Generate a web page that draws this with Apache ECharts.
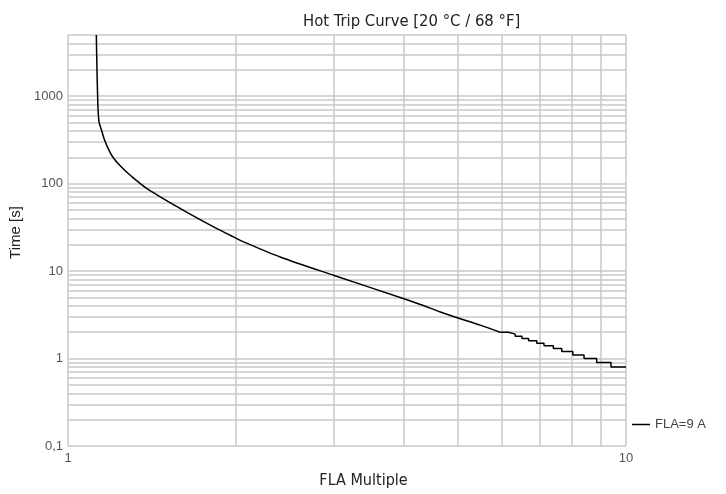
<!DOCTYPE html>
<html>
<head>
<meta charset="utf-8">
<script src="https://cdn.jsdelivr.net/npm/echarts@6/dist/echarts.min.js"></script>
<style>html,body{margin:0;padding:0;background:#fff;}#c{width:726px;height:494px;}</style>
</head>
<body>
<div id="c"></div>
<script>
// Smooth part of the trip curve (FLA multiple, time in s)
var curveFla  = [1.124, 1.127, 1.130, 1.132, 1.137, 1.149, 1.161, 1.185, 1.210, 1.244, 1.296, 1.388, 1.593, 1.827, 1.957, 2.04, 2.40, 3.0, 4.0, 4.28, 4.65, 5.0, 5.48, 5.95];
var curveTime = [5000, 2000, 1000, 713, 502, 403, 324, 238, 191, 157, 123, 87, 51.4, 31.8, 25.5, 22.3, 14.5, 8.9, 4.83, 4.15, 3.40, 2.91, 2.41, 2.0];
// Stepped part: FLA multiple where the time drops to the next 0.1 s level
var stepFla   = [6.16, 6.33, 6.51, 6.69, 6.92, 7.13, 7.41, 7.67, 8.03, 8.41, 8.86, 9.40];
var stepTime  = [1.9, 1.8, 1.7, 1.6, 1.5, 1.4, 1.3, 1.2, 1.1, 1.0, 0.9, 0.8];
var endFla = 10;
// Gridline values
var yMinor = [0.2,0.3,0.4,0.5,0.6,0.7,0.8,0.9, 2,3,4,5,6,7,8,9, 20,30,40,50,60,70,80,90, 200,300,400,500,600,700,800,900, 2000,3000,4000];
var xMinor = [2,3,4,5,6,7,8,9];
var seriesName = 'FLA=9 A';
var titleText = 'Hot Trip Curve [20 \u00B0C / 68 \u00B0F]';

var smoothData = [];
for (var i = 0; i < curveFla.length; i++) smoothData.push([curveFla[i], curveTime[i]]);
var stepData = [];
var prev = curveTime[curveTime.length - 1];
stepData.push([curveFla[curveFla.length - 1], prev]);
for (var j = 0; j < stepFla.length; j++) {
  stepData.push([stepFla[j], prev]);
  stepData.push([stepFla[j], stepTime[j]]);
  prev = stepTime[j];
}
stepData.push([endFla, prev]);

var gridColor = '#c8c8c8';
var ml = [];
yMinor.forEach(function (v) { ml.push({ yAxis: v }); });
xMinor.forEach(function (v) { ml.push({ xAxis: v }); });

var condensed = '"DejaVu Sans", sans-serif';
var sans = '"Liberation Sans", Arial, sans-serif';
var chart = echarts.init(document.getElementById('c'));
chart.setOption({
  animation: false,
  title: {
    text: titleText, left: 298, top: 8,
    textStyle: { fontFamily: condensed, fontWeight: 'normal condensed', fontSize: 16.5, color: '#222' }
  },
  legend: {
    data: [seriesName], left: 632, top: 418, itemWidth: 18, itemHeight: 1.5, itemGap: 5,
    icon: 'rect', padding: 0,
    textStyle: { fontFamily: sans, fontSize: 13, color: '#444' }
  },
  grid: { left: 67, right: 100, top: 35, bottom: 46, containLabel: false },
  xAxis: {
    type: 'log', logBase: 10, min: 1, max: 10,
    name: 'FLA Multiple', nameLocation: 'middle', nameGap: 27,
    nameTextStyle: { fontFamily: condensed, fontWeight: 'normal condensed', fontSize: 16, color: '#222', padding: [0, 0, 0, 33] },
    axisLine: { show: false }, axisTick: { show: false },
    axisLabel: { margin: 6, fontFamily: sans, fontSize: 13, color: '#555' },
    splitLine: { show: true, lineStyle: { color: gridColor, width: 1.5 } }
  },
  yAxis: {
    type: 'log', logBase: 10, min: 0.1, max: 5000,
    name: 'Time [s]', nameLocation: 'middle', nameGap: 45, nameRotate: 90,
    nameTextStyle: { fontFamily: sans, fontSize: 15, color: '#222', padding: [0, 0, 0, 16] },
    axisLine: { show: false }, axisTick: { show: false },
    axisLabel: {
      margin: 5, fontFamily: sans, fontSize: 13, color: '#555',
      formatter: function (v) {
        var e = Math.log10(v);
        if (Math.abs(e - Math.round(e)) > 1e-6) return '';
        var r = Math.round(e);
        if (r < 0) return '0,' + '1';
        return String(Math.pow(10, r));
      }
    },
    splitLine: { show: true, lineStyle: { color: gridColor, width: 1.5 } }
  },
  series: [{
    type: 'line', data: [], symbol: 'none', silent: true, z: 1,
    markLine: {
      silent: true, symbol: 'none', label: { show: false }, animation: false,
      lineStyle: { color: gridColor, width: 1.5, type: 'solid' },
      data: ml
    }
  }, {
    name: seriesName, type: 'line', data: smoothData, symbol: 'none', showSymbol: false,
    smooth: 0.3,
    lineStyle: { color: '#000', width: 1.5 }, itemStyle: { color: '#000' }, z: 5
  }, {
    name: seriesName, type: 'line', data: stepData, symbol: 'none', showSymbol: false,
    lineStyle: { color: '#000', width: 1.5 }, itemStyle: { color: '#000' }, z: 5
  }]
});
</script>
</body>
</html>
